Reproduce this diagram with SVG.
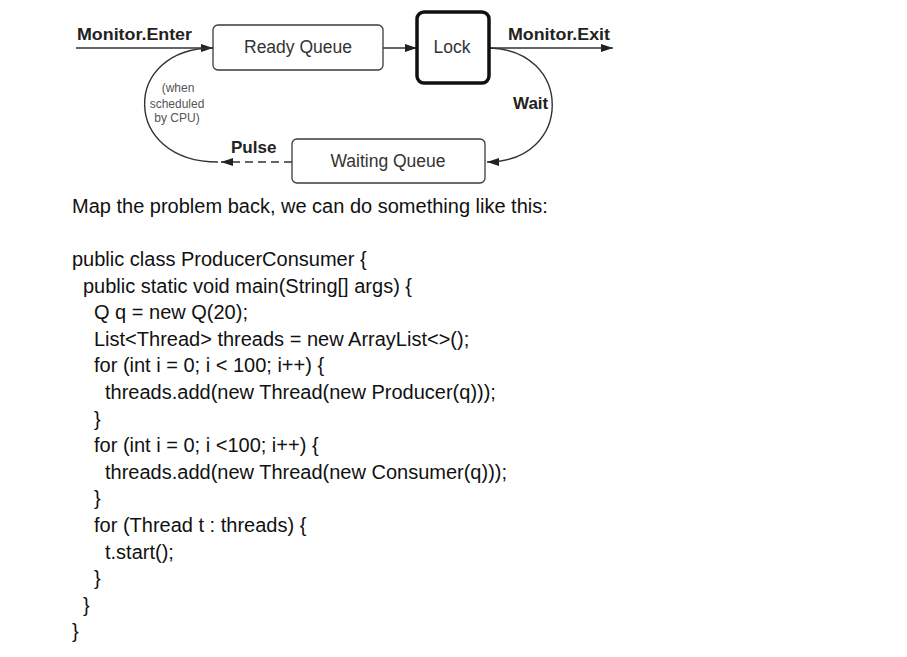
<svg xmlns="http://www.w3.org/2000/svg" width="907" height="657" viewBox="0 0 907 657">
<style>
.box{fill:#fff;stroke:#3a3a3a;stroke-width:1.3}
.lock{fill:#fff;stroke:#111;stroke-width:3.5}
.lbl{font-family:"Liberation Sans",Arial,sans-serif;font-size:17.5px;fill:#333;text-anchor:middle}
.bold{font-family:"Liberation Sans",Arial,sans-serif;font-size:17px;font-weight:bold;fill:#222}
.note{font-family:"Liberation Sans",Arial,sans-serif;font-size:12px;fill:#555;text-anchor:middle}
.edge{fill:none;stroke:#333;stroke-width:1.4}
.code{font-family:"Liberation Sans",Arial,sans-serif;font-size:20px;fill:#111}
</style>
<defs>
<marker id="ah" viewBox="0 0 12 8" refX="12" refY="4" markerWidth="12" markerHeight="8" markerUnits="userSpaceOnUse" orient="auto">
<path d="M0,0 L12,4 L0,8 Z" fill="#222"/>
</marker>
</defs>
<rect width="907" height="657" fill="#fff"/>
<g id="connectors">
<path class="edge" d="M76,48 L213,48" marker-end="url(#ah)"/>
<path class="edge" d="M218,162 C121,162 121,48 213,48"/>
<path class="edge" d="M383,48 L417,48" marker-end="url(#ah)"/>
<path class="edge" d="M489,48 L613,48" marker-end="url(#ah)"/>
<path class="edge" d="M487,48 C574,48 574,162 487,162" marker-end="url(#ah)"/>
<path class="edge" d="M292,162 L221,162" stroke-dasharray="8,5" marker-end="url(#ah)"/>
<text class="bold" x="77" y="40" textLength="115" lengthAdjust="spacingAndGlyphs">Monitor.Enter</text>
<text class="bold" x="508" y="40" textLength="102" lengthAdjust="spacingAndGlyphs">Monitor.Exit</text>
<text class="bold" x="513" y="109">Wait</text>
<text class="bold" x="231" y="153">Pulse</text>
<text class="note" x="178" y="92">(when</text>
<text class="note" x="177" y="108">scheduled</text>
<text class="note" x="177" y="122">by CPU)</text>
</g>
<g id="ready-queue">
<rect class="box" x="213" y="25" width="170" height="45" rx="5"/>
<text class="lbl" x="298" y="53">Ready Queue</text>
</g>
<g id="lock">
<rect class="lock" x="417" y="12" width="72" height="71" rx="7"/>
<text class="lbl" x="452" y="53">Lock</text>
</g>
<g id="waiting-queue">
<rect class="box" x="292" y="139" width="193" height="44" rx="5"/>
<text class="lbl" x="388" y="167">Waiting Queue</text>
</g>
<g id="text">
<text class="code" x="72" y="213">Map the problem back, we can do something like this:</text>
<text class="code" x="72" y="266">public class ProducerConsumer {</text>
<text class="code" x="83" y="292.6">public static void main(String[] args) {</text>
<text class="code" x="94" y="319.2">Q q = new Q(20);</text>
<text class="code" x="94" y="345.8">List&lt;Thread&gt; threads = new ArrayList&lt;&gt;();</text>
<text class="code" x="94" y="372.4">for (int i = 0; i &lt; 100; i++) {</text>
<text class="code" x="105" y="399">threads.add(new Thread(new Producer(q)));</text>
<text class="code" x="94" y="425.6">}</text>
<text class="code" x="94" y="452.2">for (int i = 0; i &lt;100; i++) {</text>
<text class="code" x="105" y="478.8">threads.add(new Thread(new Consumer(q)));</text>
<text class="code" x="94" y="505.4">}</text>
<text class="code" x="94" y="532">for (Thread t : threads) {</text>
<text class="code" x="105" y="558.6">t.start();</text>
<text class="code" x="94" y="585.2">}</text>
<text class="code" x="83" y="611.8">}</text>
<text class="code" x="72" y="638.4">}</text>
</g>
</svg>
